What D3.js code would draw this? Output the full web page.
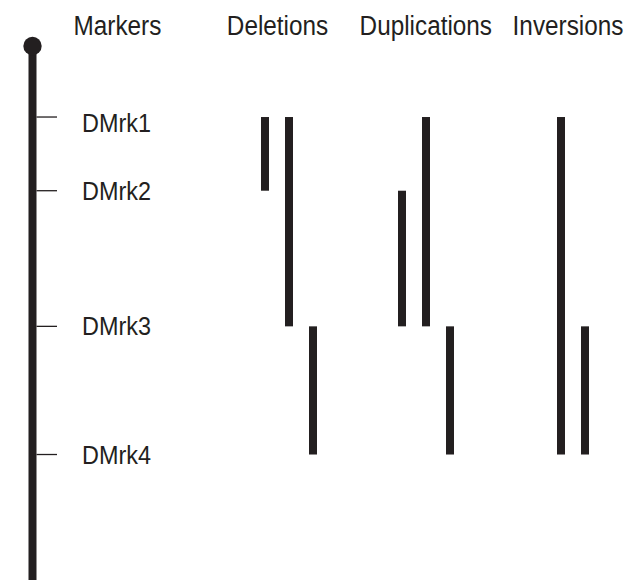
<!DOCTYPE html>
<html>
<head>
<meta charset="utf-8">
<script src="https://cdn.jsdelivr.net/npm/d3@7"></script>
<style>
  html, body { margin: 0; padding: 0; background: #fff; }
  text { font-family: "Liberation Sans", Arial, sans-serif; fill: #231f20; }
</style>
</head>
<body>
<svg id="chart" width="637" height="580"></svg>
<script>
// ---- data ----
const columns = ["Markers", "Deletions", "Duplications", "Inversions"];
const markerNames = ["DMrk1", "DMrk2", "DMrk3", "DMrk4"];
const markerPositions = [13.3, 27.1, 52.5, 76.5];     // position along chromosome (0-100)
const deletions    = [["DMrk1", "DMrk2"], ["DMrk1", "DMrk3"], ["DMrk3", "DMrk4"]];
const duplications = [["DMrk2", "DMrk3"], ["DMrk1", "DMrk3"], ["DMrk3", "DMrk4"]];
const inversions   = [["DMrk1", "DMrk4"], ["DMrk3", "DMrk4"]];

// ---- layout ----
const ink = "#231f20";
const svg = d3.select("#chart");
const W = 637, H = 580;

const y = d3.scaleLinear().domain([0, 100]).range([46, 580]);
const posOf = new Map(markerNames.map((m, i) => [m, markerPositions[i]]));

const headerX = d3.scaleOrdinal().domain(columns).range([117.5, 277.5, 425.8, 568]);
const trackX  = d3.scaleOrdinal().domain(columns.slice(1)).range([289, 426, 573]);
const chromX = 32.5;
const barW = 8, barStep = 24;
const fontSize = 27, squeeze = 0.9;

// headers
const hdr = svg.append("g").selectAll("text").data(columns).join("text")
  .attr("x", d => headerX(d))
  .attr("y", 35)
  .attr("text-anchor", "middle")
  .attr("font-size", fontSize)
  .text(d => d);

// chromosome line
svg.append("line")
  .attr("x1", chromX).attr("x2", chromX)
  .attr("y1", y(0)).attr("y2", y(100) + 5)
  .attr("stroke", ink).attr("stroke-width", 8);
svg.append("circle")
  .attr("cx", chromX).attr("cy", y(0)).attr("r", 9.2)
  .attr("fill", ink);

// marker ticks + labels
const labelShift = { DMrk1: 6 };
const mk = svg.append("g").selectAll("g").data(markerNames).join("g");
mk.append("line")
  .attr("x1", chromX + 4).attr("x2", 57)
  .attr("y1", d => y(posOf.get(d))).attr("y2", d => y(posOf.get(d)))
  .attr("stroke", ink).attr("stroke-width", 1.3);
const lbl = mk.append("text")
  .attr("x", 82)
  .attr("y", d => y(posOf.get(d)) + (labelShift[d] || 0))
  .attr("dy", "0.35em")
  .attr("font-size", fontSize - 1)
  .text(d => d);

// squeeze text horizontally to match the condensed face
svg.selectAll("text").each(function() {
  const len = this.getComputedTextLength();
  d3.select(this).attr("textLength", len * squeeze).attr("lengthAdjust", "spacingAndGlyphs");
});

// rearrangement bars
const tracks = [["Deletions", deletions], ["Duplications", duplications], ["Inversions", inversions]];
tracks.forEach(([name, spans]) => {
  const n = spans.length;
  svg.append("g").selectAll("rect").data(spans).join("rect")
    .attr("x", (d, i) => trackX(name) + (i - (n - 1) / 2) * barStep - barW / 2)
    .attr("width", barW)
    .attr("y", d => y(posOf.get(d[0])))
    .attr("height", d => y(posOf.get(d[1])) - y(posOf.get(d[0])))
    .attr("fill", ink);
});
</script>
</body>
</html>
